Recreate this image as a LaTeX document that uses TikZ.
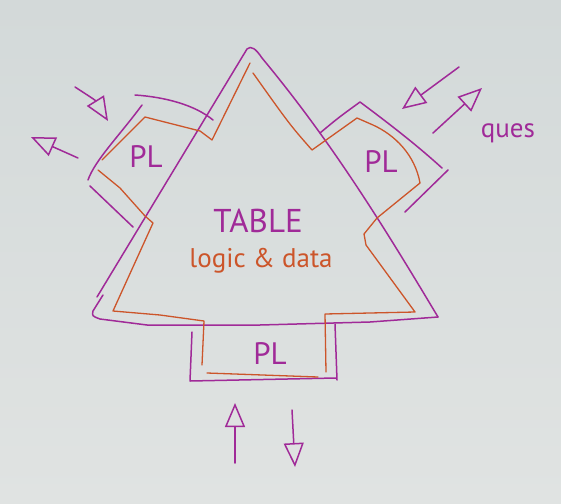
\documentclass[tikz,border=0pt]{standalone}
\usepackage{fontspec}
\setmainfont{PT Sans}
\usetikzlibrary{arrows.meta}
\definecolor{boardTop}{HTML}{D3D9D9}
\definecolor{boardBottom}{HTML}{E0E3E2}
\definecolor{markerPurple}{HTML}{A02A98}
\definecolor{markerOrange}{HTML}{CC552A}

\begin{document}
\begin{tikzpicture}[x=1pt, y=-1pt, line cap=round, line join=round,
    pen/.style={markerPurple, line width=1.5pt},
    orangepen/.style={markerOrange, line width=1.3pt},
    arrowpen/.style={pen, -{Triangle[open, length=24pt, width=20pt]}}]
    \shade[top color=boardTop, bottom color=boardBottom] (0,0) rectangle (561,503);
    \draw[pen] (97,297) -- (247,49) .. controls (251,45) and (256,49) .. (262,58) .. controls (330,140) and (380,220) .. (438,317);
    \draw[pen] (103,295) -- (93,311) .. controls (92,316) .. (100,319) -- (147,325) -- (260,325) -- (370,322) -- (438,317);
    \draw[pen] (135,95) .. controls (165,97) and (195,105) .. (213,120);
    \draw[pen] (142,105) .. controls (120,135) and (95,160) .. (88,180);
    \draw[pen] (90,186) -- (133,227);
    \draw[pen] (320,133) .. controls (338,118) .. (360,102) .. controls (395,128) and (420,148) .. (442,168);
    \draw[pen] (448,170) -- (405,212);
    \draw[pen] (192,332) -- (190,381) -- (336,378);
    \draw[pen] (335,324) -- (337,380);
    \draw[orangepen] (250,63) -- (212,140) -- (200,131) -- (145,117) -- (102,160);
    \draw[orangepen] (98,170) -- (120,188) -- (145,216) -- (153,223) -- (113,311) -- (160,315) -- (204,321) -- (202,365);
    \draw[orangepen] (207,373) -- (318,377);
    \draw[orangepen] (326,372) -- (325,314) -- (370,313) -- (415,312) -- (366,245) -- (364,234) -- (377,218) -- (420,183) .. controls (415,155) and (395,135) .. (373,125) -- (357,118) -- (312,150) .. controls (290,125) .. (253,73);
    \draw[arrowpen] (75,87) .. controls (95,100) .. (108,121);
    \draw[arrowpen] (78,158) -- (31,137);
    \draw[arrowpen] (459,67) -- (402,109);
    \draw[arrowpen] (433,133) -- (482,88);
    \draw[arrowpen] (235,463) -- (235,403);
    \draw[arrowpen] (292,410) -- (295,467);
    \node[markerPurple, font=\fontsize{33}{33}\selectfont] (table) at (258,221) {TABLE};
    \node[markerOrange, font=\fontsize{27}{27}\selectfont] (logic) at (261,261) {logic \& data};
    \node[markerPurple, font=\fontsize{31}{31}\selectfont] (plLeft) at (146,157) {PL};
    \node[markerPurple, font=\fontsize{31}{31}\selectfont] (plRight) at (381,162) {PL};
    \node[markerPurple, font=\fontsize{31}{31}\selectfont] (plBottom) at (270,354) {PL};
    \node[markerPurple, font=\fontsize{27}{27}\selectfont] (ques) at (508,133) {ques};
\end{tikzpicture}
\end{document}
